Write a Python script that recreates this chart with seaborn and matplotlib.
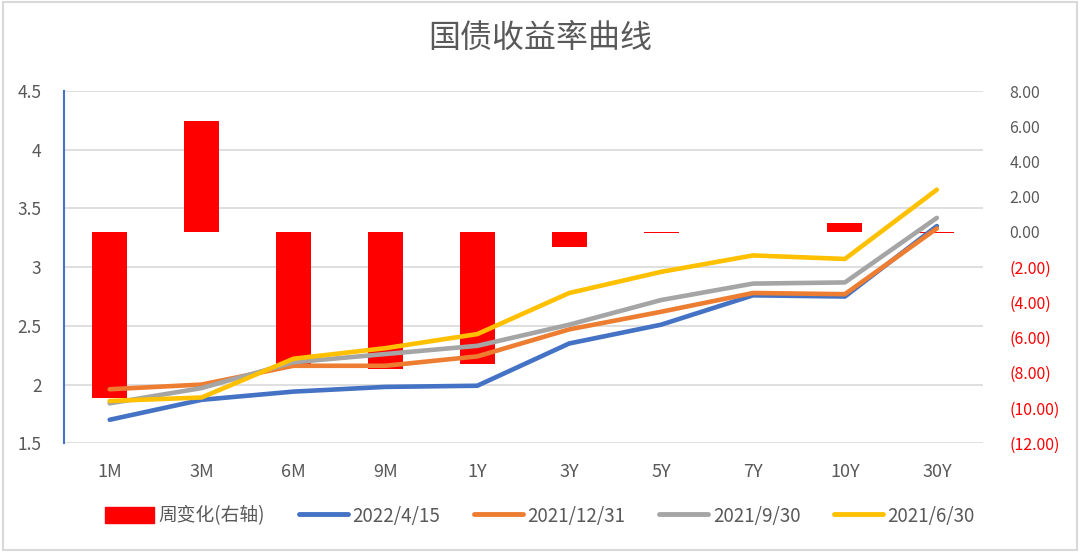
import numpy as np
import pandas as pd
import matplotlib
matplotlib.use("Agg")
import matplotlib.pyplot as plt
import seaborn as sns
from matplotlib.patches import Rectangle, Patch
from matplotlib.lines import Line2D
from matplotlib.ticker import FixedLocator, FuncFormatter

# ---------------- data ----------------
categories = ["1M", "3M", "6M", "9M", "1Y", "3Y", "5Y", "7Y", "10Y", "30Y"]
weekly_change = [-9.43, 6.32, -7.6, -7.8, -7.5, -0.87, -0.08, 0.0, 0.48, -0.06]
y_2022_04_15 = [1.70, 1.87, 1.94, 1.98, 1.99, 2.35, 2.51, 2.76, 2.75, 3.35]
y_2021_12_31 = [1.96, 2.00, 2.16, 2.16, 2.24, 2.47, 2.62, 2.78, 2.77, 3.33]
y_2021_09_30 = [1.84, 1.97, 2.19, 2.26, 2.33, 2.51, 2.72, 2.86, 2.87, 3.42]
y_2021_06_30 = [1.86, 1.89, 2.22, 2.31, 2.43, 2.78, 2.96, 3.10, 3.07, 3.66]
series_names = ["2022/4/15", "2021/12/31", "2021/9/30", "2021/6/30"]
bar_name = "周变化(右轴)"
title = "国债收益率曲线"
left_ticks = [1.5, 2, 2.5, 3, 3.5, 4, 4.5]
right_ticks = [-12, -10, -8, -6, -4, -2, 0, 2, 4, 6, 8]

# ---------------- style ----------------
sns.set_theme(style="white")
plt.rcParams["font.family"] = ["Noto Sans CJK SC", "DejaVu Sans"]
TXT = "#595959"
GRID = "#D9D9D9"
colors = ["#4472C4", "#ED7D31", "#A5A5A5", "#FFC000"]
BAR = "#FF0000"

pos = np.arange(len(categories))
bars_df = pd.DataFrame({"pos": pos, "change": weekly_change})
lines_df = pd.concat([
    pd.DataFrame({"pos": pos, "yield": vals, "series": name})
    for name, vals in zip(series_names, [y_2022_04_15, y_2021_12_31, y_2021_09_30, y_2021_06_30])
], ignore_index=True)

fig = plt.figure(figsize=(10.8, 5.52), dpi=100)
ax = fig.add_axes([0.059, 0.197, 0.851, 0.638])   # grid + left scale
ax2 = ax.twinx()                                    # bars, right scale
ax3 = ax.twinx()                                    # lines, left scale

# grid axis
ax.set_ylim(1.5, 4.5)
ax.yaxis.set_major_locator(FixedLocator(left_ticks))
ax.yaxis.set_major_formatter(FuncFormatter(lambda v, p: f"{v:g}"))
ax.grid(axis="y", color=GRID, linewidth=1.2)
ax.grid(axis="x", visible=False)
for s in ["top", "right", "bottom"]:
    ax.spines[s].set_visible(False)
ax.spines["left"].set_color("#4472C4")
ax.spines["left"].set_linewidth(1.5)
ax.tick_params(axis="y", labelsize=12.5, colors=TXT, length=0, pad=16)
ax.tick_params(axis="x", labelsize=13, colors=TXT, length=0, pad=14)

# bars
sns.barplot(data=bars_df, x="pos", y="change", ax=ax2, color=BAR, width=0.38,
            native_scale=True, saturation=1, linewidth=0)
ax2.set_ylim(-12, 8)
ax2.yaxis.set_major_locator(FixedLocator(right_ticks))
ax2.yaxis.set_major_formatter(FuncFormatter(
    lambda v, p: f"{v:.2f}" if v >= 0 else f"({-v:.2f})"))
ax2.tick_params(axis="y", labelsize=11.5, length=0, pad=19)
for lab, v in zip(ax2.get_yticklabels(), right_ticks):
    lab.set_color(BAR if v < 0 else TXT)
ax2.set_ylabel("")
ax2.grid(False)
for s in ax2.spines.values():
    s.set_visible(False)

# lines
sns.lineplot(data=lines_df, x="pos", y="yield", hue="series", ax=ax3,
             palette=colors, hue_order=series_names, linewidth=3.3,
             legend=False, solid_capstyle="round")
ax3.set_ylim(1.5, 4.5)
ax3.set_yticks([])
ax3.set_ylabel("")
ax3.grid(False)
for s in ax3.spines.values():
    s.set_visible(False)

ax.set_xlim(-0.5, len(categories) - 0.5)
ax.set_xticks(pos)
ax.set_xticklabels(categories)
ax.set_xlabel("")
ax.set_ylabel("")
ax3.set_xlabel("")

# title
fig.text(0.5, 0.932, title, ha="center", va="center", fontsize=23, color=TXT)

# legend
handles = [Patch(facecolor=BAR, edgecolor=BAR)] + [
    Line2D([0], [0], color=c, linewidth=3.5, solid_capstyle="round") for c in colors]
labels = [bar_name] + series_names
fig.legend(handles, labels, loc="center", bbox_to_anchor=(0.5, 0.065), ncol=5,
           frameon=False, fontsize=13.5, labelcolor=TXT, handlelength=2.6,
           handleheight=0.9, columnspacing=1.8, handletextpad=0.25)

# chart border
fig.patches.append(Rectangle((0.003, 0.004), 0.994, 0.992, transform=fig.transFigure,
                             fill=False, edgecolor=GRID, linewidth=1.5))

fig.savefig("out.png", dpi=100)
